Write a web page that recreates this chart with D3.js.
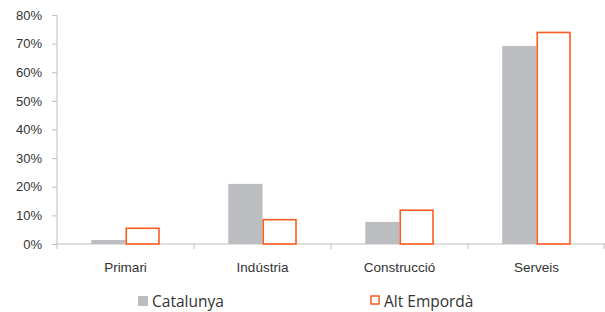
<!DOCTYPE html>
<html>
<head>
<meta charset="utf-8">
<script src="https://cdn.jsdelivr.net/npm/d3@7"></script>
<style>
  body { margin: 0; background: #fff; }
  svg { display: block; font-family: "Open Sans", "Noto Sans", sans-serif; }
  .axis path, .axis line { stroke: #bfbfbf; }
  .axis text { fill: #333; font-size: 13px; }
  .xcat text { font-size: 13.5px; }
</style>
</head>
<body>
<div id="chart"></div>
<script>
const categories = ["Primari", "Indústria", "Construcció", "Serveis"];
const catalunya = [1.4, 21.0, 7.7, 69.2];
const altEmporda = [5.5, 8.5, 11.8, 73.9];
const yTicks = [0, 10, 20, 30, 40, 50, 60, 70, 80];

const width = 605, height = 312;
const margin = { top: 15, right: 0, bottom: 68, left: 57 };
const innerW = width - margin.left - margin.right;
const innerH = height - margin.top - margin.bottom;

const svg = d3.select("#chart").append("svg")
  .attr("width", width)
  .attr("height", height);

const g = svg.append("g")
  .attr("transform", "translate(" + margin.left + "," + margin.top + ")");

const x = d3.scaleBand().domain(categories).range([0, innerW]);
const series = ["Catalunya", "Alt Empordà"];
const x1 = d3.scaleBand().domain(series)
  .range([x.bandwidth() / 4, x.bandwidth() * 3 / 4]);
const y = d3.scaleLinear().domain([0, 80]).range([innerH, 0]);

// y axis
const yAxis = g.append("g")
  .attr("class", "axis")
  .call(d3.axisLeft(y).tickValues(yTicks).tickSize(5).tickPadding(10)
    .tickFormat(d => d + "%"));
yAxis.select(".domain").attr("d", "M0," + innerH + "V0");

// x axis with ticks at category boundaries
const xAxis = g.append("g")
  .attr("class", "axis xcat")
  .attr("transform", "translate(0," + innerH + ")")
  .call(d3.axisBottom(x).tickSize(0).tickPadding(18));
xAxis.select(".domain").attr("d", "M0,0H" + innerW);
xAxis.selectAll(".bound")
  .data(d3.range(categories.length + 1))
  .enter().append("line")
    .attr("class", "bound")
    .attr("x1", i => Math.min(i * x.step(), innerW - 1))
    .attr("x2", i => Math.min(i * x.step(), innerW - 1))
    .attr("y1", 0).attr("y2", 5)
    .attr("stroke", "#bfbfbf");

const rows = categories.map((c, i) => ({ c, a: catalunya[i], b: altEmporda[i] }));

const grp = g.selectAll(".cat")
  .data(rows)
  .enter().append("g")
    .attr("transform", d => "translate(" + x(d.c) + ",0)");

grp.append("rect")
  .attr("x", x1("Catalunya"))
  .attr("y", d => y(d.a))
  .attr("width", x1.bandwidth())
  .attr("height", d => innerH - y(d.a))
  .attr("fill", "#bcbdc1");

grp.append("rect")
  .attr("x", x1("Alt Empordà") + 0.75)
  .attr("y", d => y(d.b))
  .attr("width", x1.bandwidth() - 1.5)
  .attr("height", d => innerH - y(d.b))
  .attr("fill", "#fff")
  .attr("stroke", "#ff5a1f")
  .attr("stroke-width", 1.6);

// legend
const legend = svg.append("g").attr("transform", "translate(0,302)");
legend.append("rect")
  .attr("x", 138).attr("y", -6).attr("width", 10).attr("height", 10)
  .attr("fill", "#bcbdc1");
legend.append("text")
  .attr("x", 152).attr("y", 0).attr("dy", "0.35em")
  .attr("fill", "#333").style("font-size", "15.5px")
  .text("Catalunya");
legend.append("rect")
  .attr("x", 371).attr("y", -6).attr("width", 8).attr("height", 8)
  .attr("fill", "#fff").attr("stroke", "#ff5a1f").attr("stroke-width", 1.5);
legend.append("text")
  .attr("x", 384).attr("y", 0).attr("dy", "0.35em")
  .attr("fill", "#333").style("font-size", "15.5px")
  .text("Alt Empordà");
</script>
</body>
</html>
